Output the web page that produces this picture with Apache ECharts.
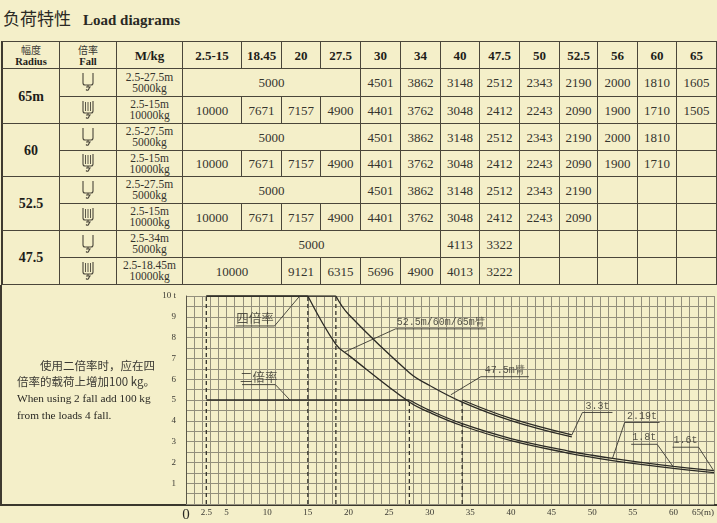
<!doctype html>
<html>
<head>
<meta charset="utf-8">
<title>负荷特性 Load diagrams</title>
<script src="https://cdn.jsdelivr.net/npm/echarts@6.0.0/dist/echarts.min.js"></script>
<style>
	html, body { margin: 0; padding: 0; }
	body { width: 717px; height: 523px; background: #f4efc9; position: relative; overflow: hidden;
		font-family: "Liberation Serif", serif; color: #2a2924; }
	#title { position: absolute; left: 3px; top: 5px; white-space: nowrap; }
	#title .cn { font-family: "Noto Sans CJK SC"; font-size: 17px; }
	#title .en { font-weight: bold; font-size: 15px; margin-left: 12px; }
	.c { position: absolute; box-sizing: border-box; border-right: 1px solid #4a463a; border-bottom: 1px solid #4a463a;
		display: flex; flex-direction: column; align-items: center; justify-content: center; text-align: center;
		font-size: 13px; color: #35342e; line-height: 13px; }
	.c.top { border-top: 1px solid #4a463a; }
	.c.left { border-left: 2px solid #3e3a30; }
	.c.hd { font-weight: bold; color: #1e1d19; }
	.c .cn { font-family: "Noto Sans CJK SC"; font-weight: normal; font-size: 10px; line-height: 12px; color: #3a3933; }
	.c .sm { font-weight: bold; font-size: 10.5px; line-height: 11px; }
	.c.note { font-size: 11.5px; line-height: 11px; }
	.c.boom { font-weight: bold; font-size: 14px; color: #1e1d19; }
	#frame { position: absolute; left: 0; top: 285px; width: 717px; height: 221px; box-sizing: border-box;
		border-left: 2px solid #3e3a30; border-bottom: 2px solid #3a372d; }
	#chart { position: absolute; left: 0; top: 285px; width: 717px; height: 238px; }
	#memo { position: absolute; left: 17px; top: 357px; width: 150px; z-index: 2; line-height: 16px; }
	#memo .cn { font-family: "Noto Sans CJK SC"; font-size: 11.5px; color: #3a3933; }
	#memo .en { font-size: 11.3px; color: #2a2924; }
</style>
</head>
<body>
	<div id="title"><span class="cn">负荷特性</span><span class="en">Load diagrams</span></div>
	<div id="tbl"></div>
	<div id="frame"></div>
	<div id="memo">
		<span class="cn">&emsp;&emsp;使用二倍率时，应在四</span><br>
		<span class="cn">倍率的载荷上增加100 kg。</span><br>
		<span class="en">When using 2 fall add 100 kg</span><br>
		<span class="en">from the loads 4 fall.</span>
	</div>
	<div id="chart"></div>
</body>
</html>
<script type="text/javascript">
	// 表格数据
	var colLabels = ['2.5-15', '18.45', '20', '27.5', '30', '34', '40', '47.5', '50', '52.5', '56', '60', '65'];
	var colRadius = [15, 18.45, 20, 27.5, 30, 34, 40, 47.5, 50, 52.5, 56, 60, 65];
	var minRadius = 2.5;
	var boomLabels = ['65m', '60', '52.5', '47.5'];
	var rangeNotes = [
		[['2.5-27.5m', '5000kg'], ['2.5-15m', '10000kg']],
		[['2.5-27.5m', '5000kg'], ['2.5-15m', '10000kg']],
		[['2.5-27.5m', '5000kg'], ['2.5-15m', '10000kg']],
		[['2.5-34m', '5000kg'], ['2.5-18.45m', '10000kg']]
	];
	var boom65Fall2 = [5000, 5000, 5000, 5000, 4501, 3862, 3148, 2512, 2343, 2190, 2000, 1810, 1605];
	var boom65Fall4 = [10000, 7671, 7157, 4900, 4401, 3762, 3048, 2412, 2243, 2090, 1900, 1710, 1505];
	var boom60Fall2 = [5000, 5000, 5000, 5000, 4501, 3862, 3148, 2512, 2343, 2190, 2000, 1810, null];
	var boom60Fall4 = [10000, 7671, 7157, 4900, 4401, 3762, 3048, 2412, 2243, 2090, 1900, 1710, null];
	var boom52Fall2 = [5000, 5000, 5000, 5000, 4501, 3862, 3148, 2512, 2343, 2190, null, null, null];
	var boom52Fall4 = [10000, 7671, 7157, 4900, 4401, 3762, 3048, 2412, 2243, 2090, null, null, null];
	var boom47Fall2 = [5000, 5000, 5000, 5000, 5000, 5000, 4113, 3322, null, null, null, null, null];
	var boom47Fall4 = [10000, 10000, 9121, 6315, 5696, 4900, 4013, 3222, null, null, null, null, null];

	// 图上的辅助虚线
	var guideRadius = [2.5, 15, 18.45, 27.5, 34];
	var guideTop = [10, 10, 10, 5, 5];

	// 标注
	var noteTexts = ['四倍率', '二倍率', '52.5m/60m/65m臂', '47.5m臂', '3.3t', '2.19t', '1.8t', '1.6t'];
	var noteRules = [[6.1, 10.9, 8.56], [6.9, 11.0, 5.74], [25.8, 36.9, 8.42], [36.3, 42.2, 6.12],
		[48.8, 52.5, 4.4], [54.0, 58.3, 3.92], [54.8, 58.0, 2.87], [59.9, 63.1, 2.73]];
	var noteTargets = [[14.0, 10], [12.8, 5], [19.5, 7.3], [32.6, 5.25], [47.5, 3.32], [52.5, 2.19], [60, 1.78], [65, 1.58]];
	var noteSide = ['right', 'right', 'left', 'left', 'left', 'left', 'right', 'right'];

	// 表格版式
	var colX = [1, 60, 117, 183, 242, 282, 321, 361, 401, 441, 480, 520, 560, 598, 638, 677, 717];
	var rowY = [41, 69, 97, 124, 151, 177, 204, 231, 258, 285];

	var tbl = document.getElementById('tbl');

	function cell(c0, c1, r0, r1, html, cls) {
		var d = document.createElement('div');
		d.className = 'c ' + (cls || '');
		d.style.left = colX[c0] + 'px';
		d.style.top = rowY[r0] + 'px';
		d.style.width = (colX[c1] - colX[c0]) + 'px';
		d.style.height = (rowY[r1] - rowY[r0]) + 'px';
		d.innerHTML = html;
		tbl.appendChild(d);
	}

	function fallIcon(n) {
		var s = '<svg width="14" height="21" viewBox="0 0 14 21"><path d="M2 1V11Q2 13 4 13H10Q12 13 12 11V1" fill="none" stroke="#4a463a" stroke-width="1.1"/>';
		for (var i = 1; i < n; i++) {
			var x = 2 + i * 10 / n;
			s += '<path d="M' + x + ' 2V11" stroke="#4a463a" stroke-width="0.9"/>';
		}
		s += '<path d="M7 13V15M5 15H9L8 16.5Q7 19.5 5 17.5" fill="none" stroke="#4a463a" stroke-width="1.1"/></svg>';
		return s;
	}

	cell(0, 1, 0, 1, '<span class="cn">幅度</span><span class="sm">Radius</span>', 'hd top left');
	cell(1, 2, 0, 1, '<span class="cn">倍率</span><span class="sm">Fall</span>', 'hd top');
	cell(2, 3, 0, 1, 'M/kg', 'hd top');
	colLabels.forEach(function(t, i) {
		cell(i + 3, i + 4, 0, 1, t, 'hd top');
	});

	var rows = [boom65Fall2, boom65Fall4, boom60Fall2, boom60Fall4, boom52Fall2, boom52Fall4, boom47Fall2, boom47Fall4];
	rows.forEach(function(vals, r) {
		var b = Math.floor(r / 2), k = r % 2;
		var row = r + 1;
		if (k === 0) cell(0, 1, row, row + 2, boomLabels[b], 'boom left');
		cell(1, 2, row, row + 1, fallIcon(k === 0 ? 1 : 4));
		cell(2, 3, row, row + 1, rangeNotes[b][k][0] + '<br>' + rangeNotes[b][k][1], 'note');
		var i = 0;
		while (i < vals.length) {
			var j = i;
			if (vals[i] != null) {
				while (j + 1 < vals.length && vals[j + 1] === vals[i]) j++;
			}
			cell(i + 3, j + 4, row, row + 1, vals[i] == null ? '' : String(vals[i]));
			i = j + 1;
		}
	});

	// 曲线：满载平段 + 下降段
	function loadLine(loads) {
		var cap = loads[0], k = 0;
		while (loads[k + 1] === cap) k++;
		var flat = [[minRadius, cap / 1000], [colRadius[k], cap / 1000]];
		var curve = [];
		for (var i = k; i < loads.length; i++) {
			if (loads[i] != null) curve.push([colRadius[i], loads[i] / 1000]);
		}
		return { flat: flat, curve: curve };
	}

	var lineColor = '#2b2a25';
	var series = [];

	function addLine(data, smooth) {
		series.push({
			type: 'line', data: data, smooth: smooth ? 0.4 : false,
			symbol: 'none', lineStyle: { color: lineColor, width: 1.3 }, z: 5
		});
	}

	var l65f4 = loadLine(boom65Fall4);
	var l65f2 = loadLine(boom65Fall2);
	var l47f4 = loadLine(boom47Fall4);
	var l47f2 = loadLine(boom47Fall2);
	addLine(l65f4.flat, false);
	addLine(l65f4.curve, true);
	addLine(l65f2.flat, false);
	addLine(l65f2.curve, true);
	addLine(l47f4.flat, false);
	addLine(l47f4.curve, true);
	addLine(l47f2.curve, true);

	guideRadius.forEach(function(r, i) {
		series.push({
			type: 'line', data: [[r, 0], [r, guideTop[i]]], symbol: 'none',
			lineStyle: { color: '#34332c', width: 1.3, type: [4, 3] }, z: 4
		});
	});

	noteTexts.forEach(function(t, i) {
		var rule = noteRules[i];
		var near = noteSide[i] === 'right' ? rule[1] : rule[0];
		var far = noteSide[i] === 'right' ? rule[0] : rule[1];
		series.push({
			type: 'line', data: [[far, rule[2]], [near, rule[2]], noteTargets[i]], symbol: 'none',
			lineStyle: { color: '#3a3932', width: 0.9 }, z: 6
		});
	});

	series.push({
		type: 'scatter', symbolSize: 1, itemStyle: { color: 'rgba(0,0,0,0)' }, z: 7,
		data: noteTexts.map(function(t, i) {
			var cjk = i < 2;
			return {
				value: [(noteRules[i][0] + noteRules[i][1]) / 2, noteRules[i][2]],
				label: {
					show: true, position: 'top', distance: 1, formatter: t,
					fontFamily: cjk ? 'Noto Sans CJK SC' : 'Liberation Mono',
					fontSize: cjk ? 12.5 : 10, color: '#2f2e28'
				}
			};
		})
	});

	var xLabels = [0, 2.5, 5, 10, 15, 20, 25, 30, 35, 40, 45, 50, 55, 60, 65];
	var yLabels = [1, 2, 3, 4, 5, 6, 7, 8, 9, 10];

	var option = {
		animation: false,
		grid: { left: 186, right: 1, top: 11, bottom: 18 },
		xAxis: {
			type: 'value', min: 0, max: 65, interval: 1,
			axisLine: { show: false }, axisTick: { show: false },
			splitLine: { show: true, lineStyle: { color: '#938f7c', width: 1 } },
			axisLabel: {
				customValues: xLabels, margin: 4, fontSize: 9, color: '#3a3933',
				fontFamily: 'Liberation Serif', alignMaxLabel: 'right',
				formatter: function(v) {
					if (v === 0) return '{big|0}';
					if (v === 65) return '65(m)';
					return String(v);
				},
				rich: { big: { fontSize: 15, fontFamily: 'Liberation Serif', color: '#2a2924' } }
			}
		},
		yAxis: {
			type: 'value', min: 0, max: 10, interval: 0.5,
			axisLine: { show: true, lineStyle: { color: '#5a5748', width: 1 } }, axisTick: { show: false },
			splitLine: { show: true, lineStyle: { color: '#938f7c', width: 1 } },
			axisLabel: {
				customValues: yLabels, margin: 10, fontSize: 9, color: '#3a3933',
				fontFamily: 'Liberation Serif',
				formatter: function(v) { return v === 10 ? '10 t' : String(v); }
			}
		},
		series: series
	};

	var myChart = echarts.init(document.getElementById('chart'));
	myChart.setOption(option);
</script>
